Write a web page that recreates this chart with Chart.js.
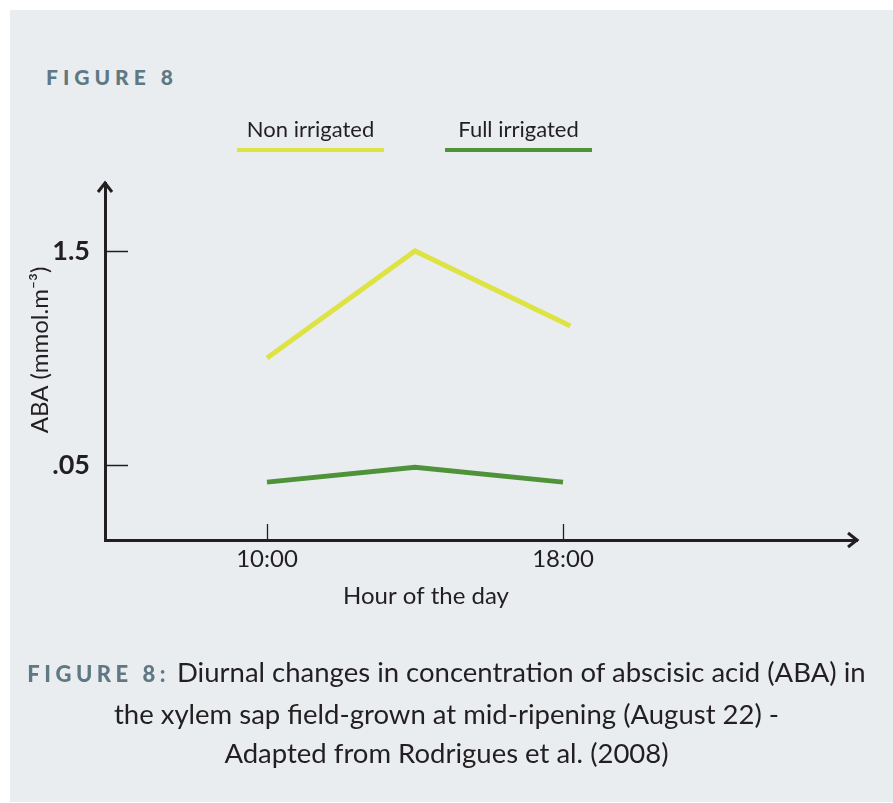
<!DOCTYPE html>
<html>
<head>
<meta charset="utf-8">
<script src="https://cdn.jsdelivr.net/npm/chart.js@4/dist/chart.umd.min.js"></script>
<style>
  html, body { margin: 0; padding: 0; background: #ffffff; }
  body { width: 893px; height: 803px; position: relative; overflow: hidden; font-family: Lato, 'Open Sans', sans-serif; }
  #panel { position: absolute; left: 10px; top: 10px; width: 883px; height: 792px; background: #e9edf0; }
  #chart { position: absolute; left: 0; top: 0; }
  #header { position: absolute; left: 46px; top: 64px; font-weight: 900; font-size: 21px; letter-spacing: 5px; color: #5e7884; }
  #caption { position: absolute; left: 0; width: 893px; top: 652px; text-align: center; font-size: 27.5px; line-height: 39.5px; color: #231f20; }
  #caption b { color: #5e7884; letter-spacing: 4.5px; font-size: 22px; font-weight: 900; }
</style>
</head>
<body>
<div id="panel"></div>
<div id="header">FIGURE 8</div>
<canvas id="chart" width="893" height="803"></canvas>
<div id="caption"><b>FIGURE 8:</b> Diurnal changes in concentration of abscisic acid (ABA) in<br>the xylem sap field-grown at mid-ripening (August 22) -<br>Adapted from Rodrigues et al. (2008)</div>
<script>
// données
const seriesNames = ['Non irrigated', 'Full irrigated'];
const nonIrrigatedHours = [10, 14, 18.2];
const nonIrrigatedValues = [1.0, 1.5, 1.15];
const fullIrrigatedHours = [10, 14, 18];
const fullIrrigatedValues = [0.42, 0.49, 0.42];
const xTickValues = [10, 18];
const xTickLabels = ['10:00', '18:00'];
const yTickValues = [0.5, 1.5];
const yTickLabels = ['.05', '1.5'];

const ink = '#231f20';

function toPoints(xs, ys) {
  return xs.map((x, i) => ({ x: x, y: ys[i] }));
}

// flèches, petits traits, légende et titres d'axes
const decorPlugin = {
  id: 'decor',
  afterDraw(chart) {
    const ctx = chart.ctx;
    const area = chart.chartArea;
    const xs = chart.scales.x;
    const ys = chart.scales.y;
    ctx.save();
    ctx.strokeStyle = ink;
    ctx.lineCap = 'butt';
    ctx.lineJoin = 'miter';

    // pointes de flèche
    ctx.lineWidth = 3;
    ctx.beginPath();
    ctx.moveTo(area.left - 7, area.top + 9);
    ctx.lineTo(area.left, area.top);
    ctx.lineTo(area.left + 7, area.top + 9);
    ctx.moveTo(area.right - 9, area.bottom - 7);
    ctx.lineTo(area.right, area.bottom);
    ctx.lineTo(area.right - 9, area.bottom + 7);
    ctx.stroke();

    // traits de graduation vers l'intérieur
    ctx.lineWidth = 1.3;
    ctx.beginPath();
    ys.ticks.forEach(t => {
      const py = Math.round(ys.getPixelForValue(t.value)) + 0.5;
      ctx.moveTo(area.left, py);
      ctx.lineTo(area.left + 23, py);
    });
    xs.ticks.forEach(t => {
      const px = Math.round(xs.getPixelForValue(t.value)) + 0.5;
      ctx.moveTo(px, area.bottom);
      ctx.lineTo(px, area.bottom - 16);
    });
    ctx.stroke();

    // légende : texte au-dessus d'un trait
    const legendX = [237, 445];
    const legendW = 147;
    ctx.font = '22px Lato';
    ctx.fillStyle = ink;
    ctx.textAlign = 'center';
    ctx.textBaseline = 'middle';
    chart.data.datasets.forEach((ds, i) => {
      const lx = legendX[i];
      ctx.fillText(ds.label, lx + legendW / 2, 130);
      ctx.strokeStyle = ds.borderColor;
      ctx.lineWidth = 4;
      ctx.beginPath();
      ctx.moveTo(lx, 150);
      ctx.lineTo(lx + legendW, 150);
      ctx.stroke();
    });

    // titre de l'axe X
    ctx.font = '24px Lato';
    ctx.fillText('Hour of the day', 426, 596);

    // titre de l'axe Y
    ctx.translate(40, 350);
    ctx.rotate(-Math.PI / 2);
    ctx.font = '24px Lato';
    ctx.fillText('ABA (mmol.m\u207B\u00B3)', 0, 0);
    ctx.restore();
  }
};

const chart = new Chart(document.getElementById('chart'), {
  type: 'line',
  data: {
    datasets: [{
      label: seriesNames[0],
      data: toPoints(nonIrrigatedHours, nonIrrigatedValues),
      borderColor: '#dde343',
      borderWidth: 5,
      borderJoinStyle: 'miter',
      pointRadius: 0,
      tension: 0
    }, {
      label: seriesNames[1],
      data: toPoints(fullIrrigatedHours, fullIrrigatedValues),
      borderColor: '#4e9339',
      borderWidth: 5,
      borderJoinStyle: 'miter',
      pointRadius: 0,
      tension: 0
    }]
  },
  options: {
    responsive: false,
    animation: false,
    devicePixelRatio: 1,
    layout: { padding: { left: 0, top: 183, right: 36, bottom: 180 } },
    plugins: {
      legend: { display: false },
      tooltip: { enabled: false }
    },
    scales: {
      x: {
        type: 'linear',
        min: 10 - 162 / 37,
        max: 18 + 294 / 37,
        afterBuildTicks: s => { s.ticks = xTickValues.map(v => ({ value: v })); },
        afterFit: s => { s.height = 83; },
        grid: { display: false, drawTicks: false },
        border: { display: true, color: ink, width: 3 },
        ticks: {
          padding: 5,
          color: ink,
          font: { family: 'Lato', size: 24 },
          callback: (v, i) => xTickLabels[i]
        }
      },
      y: {
        min: 0.5 - 75 / 214,
        max: 1.5 + 68 / 214,
        afterBuildTicks: s => { s.ticks = yTickValues.map(v => ({ value: v })); },
        afterFit: s => { s.width = 105; },
        grid: { display: false, drawTicks: false },
        border: { display: true, color: ink, width: 3 },
        ticks: {
          padding: 15,
          color: ink,
          font: { family: 'Lato', size: 27, weight: 'bold' },
          callback: (v, i) => yTickLabels[i]
        }
      }
    }
  },
  plugins: [decorPlugin]
});
</script>
</body>
</html>
